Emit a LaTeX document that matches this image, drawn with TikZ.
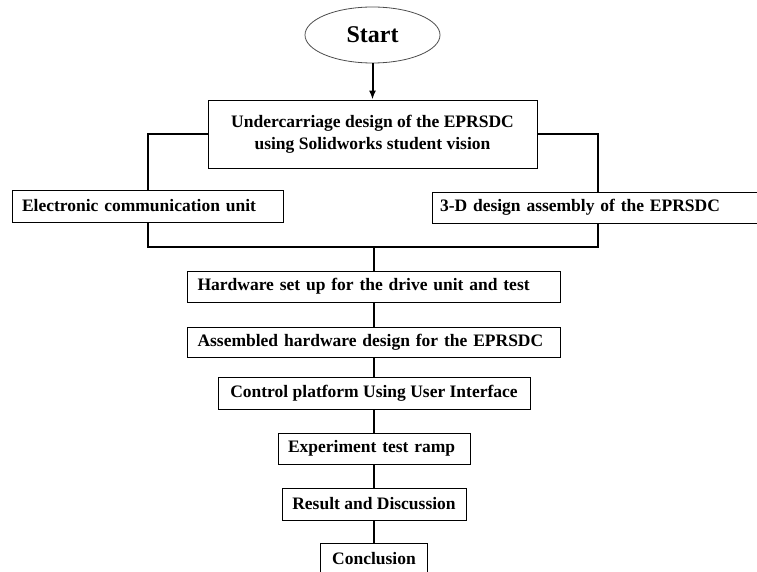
\documentclass[tikz,border=0pt]{standalone}
\usepackage{fontspec}
\setmainfont{Liberation Serif}
\usepackage{tikz}
\usetikzlibrary{shapes.geometric, arrows.meta}

\begin{document}
\begin{tikzpicture}[>={Latex[length=9pt, width=7pt]}, x=1pt, y=-1pt,
        box/.style={draw, line width=.8pt, inner ysep=2pt, font=\fontsize{17.5}{22}\selectfont\bfseries},
        lbox/.style={box, align=left, inner xsep=#1},
        link/.style={line width=2pt}]
            \useasboundingbox (0, 0) rectangle (757, 572);
            \node[ellipse, draw=black!70, line width=.8pt, minimum width=135, minimum height=56, inner sep=0,
                font=\fontsize{24}{28}\selectfont\bfseries] (start) at (372.5, 35) {Start};
            \node[box, align=center, minimum width=329, minimum height=68] (under) at (372.5, 134)
                {Undercarriage design of the EPRSDC\\using Solidworks student vision};
            \node[lbox=10pt, text width=251, minimum height=32] (ecu) at (147.5, 206) {Electronic communication unit};
            \node[lbox=8pt, text width=316, minimum height=31] (threed) at (598, 207.5) {3-D design assembly of the EPRSDC};
            \node[lbox=10pt, text width=353, minimum height=31] (hw) at (374, 286.5) {Hardware set up for the drive unit and test};
            \node[lbox=10pt, text width=353, minimum height=30] (asm) at (374, 342) {Assembled hardware design for the EPRSDC};
            \node[box, minimum width=312, minimum height=32] (ctrl) at (374, 393) {Control platform Using User Interface};
            \node[lbox=10pt, text width=172, minimum height=31] (exp) at (374, 448.5) {Experiment test ramp};
            \node[box, minimum width=184, minimum height=32] (res) at (374, 504) {Result and Discussion};
            \node[box, minimum width=107, minimum height=31] (conc) at (374, 558.5) {Conclusion};
            \coordinate (join) at (374, 247);
            \draw[link, ->] (start) -- (under);
            \draw[link] (under.west) -| (ecu.north);
            \draw[link] (under.east) -| (threed.north);
            \draw[link] (ecu.south) |- (join) -| (threed.south);
            \draw[link] (join) -- (hw.north);
            \foreach \a/\b in {hw/asm, asm/ctrl, ctrl/exp, exp/res, res/conc}
            {
                \draw[link] (\a) -- (\b);
            }
        \end{tikzpicture}
\end{document}
